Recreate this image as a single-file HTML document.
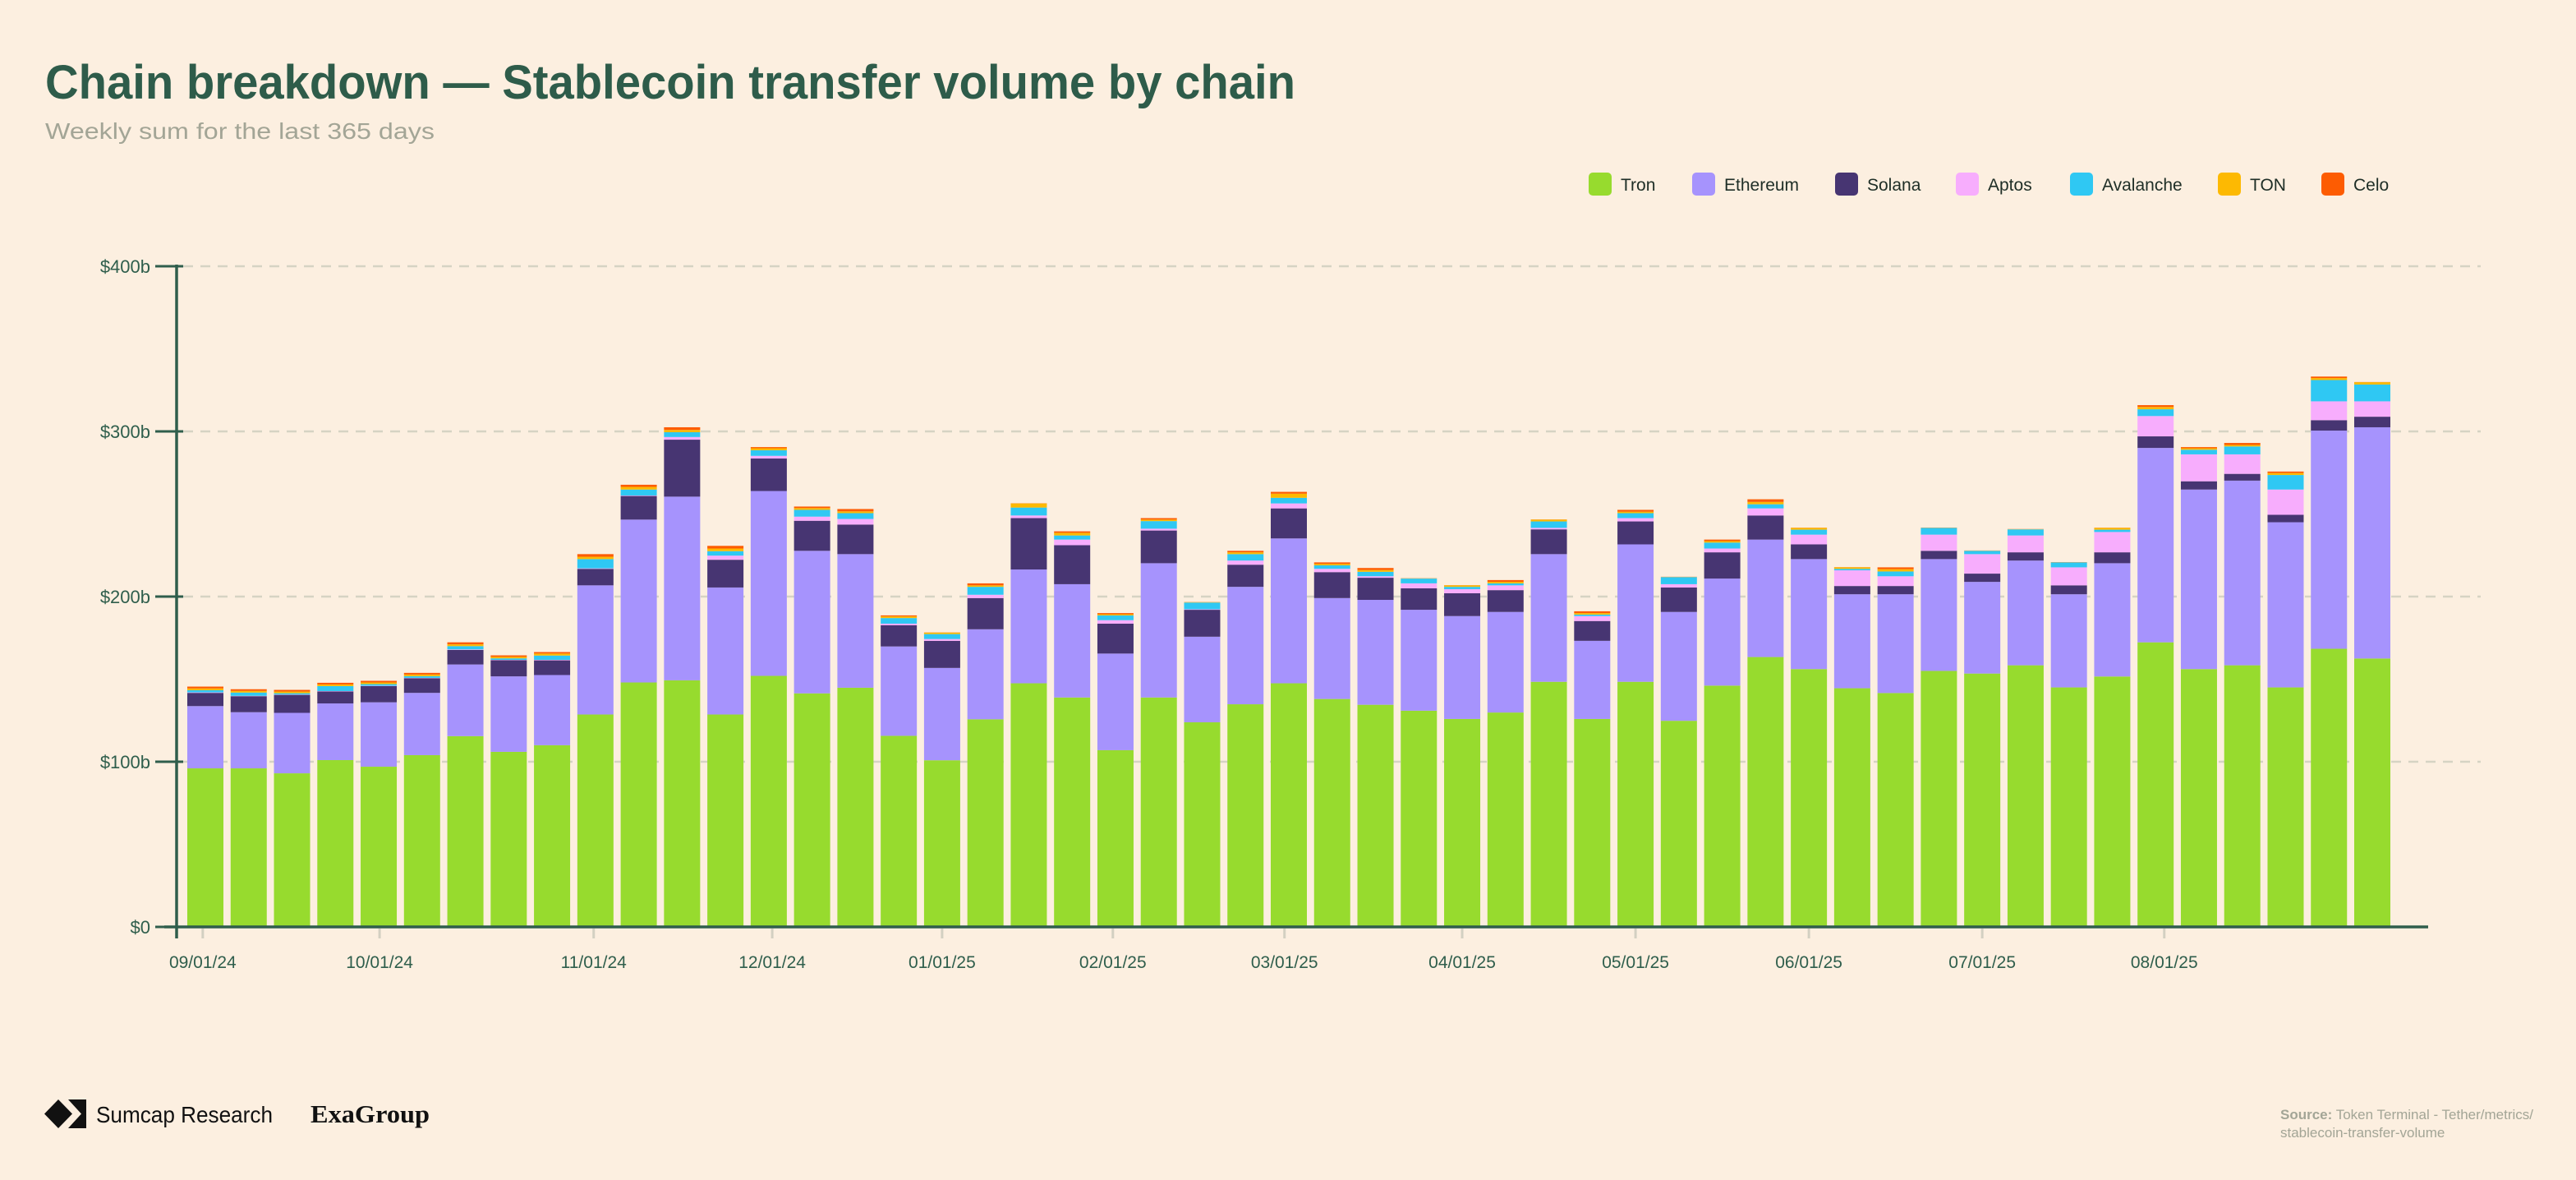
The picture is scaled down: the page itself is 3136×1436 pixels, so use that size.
<!DOCTYPE html>
<html><head><meta charset="utf-8"><style>
html,body{margin:0;padding:0;background:#fcefe0;}
svg{display:block;}
</style></head><body>
<svg id="chart" width="3136" height="1436" viewBox="0 0 3136 1436" xmlns="http://www.w3.org/2000/svg" font-family="'Liberation Sans', sans-serif">
<rect x="0" y="0" width="3136" height="1436" fill="#fcefe0"/>
<text x="55" y="120" font-size="58" font-weight="bold" fill="#2e5c4a" textLength="1522" lengthAdjust="spacingAndGlyphs">Chain breakdown — Stablecoin transfer volume by chain</text>
<text x="55" y="169" font-size="28" fill="#a3a596" textLength="474" lengthAdjust="spacingAndGlyphs">Weekly sum for the last 365 days</text>
<g id="legend"></g>
<g id="grid"></g>
<g id="bars"></g>
<g id="axes"></g>
<g>
<polygon points="71,1338 88,1355.5 71,1373 54,1355.5" fill="#111"/>
<polygon points="83,1338 105,1338 105,1373 83,1373 99,1355.5" fill="#111"/>
</g>
<text x="117" y="1366" font-size="28" fill="#111" textLength="215" lengthAdjust="spacingAndGlyphs">Sumcap Research</text>
<text x="378" y="1366" font-size="31" font-weight="bold" fill="#111" font-family="'Liberation Serif', serif" textLength="145" lengthAdjust="spacingAndGlyphs">ExaGroup</text>
<text x="2776" y="1362" font-size="17" fill="#a3a596"><tspan font-weight="bold">Source:</tspan> Token Terminal - Tether/metrics/</text>
<text x="2776" y="1384" font-size="17" fill="#a3a596">stablecoin-transfer-volume</text>
</svg>
<script>
const seriesNames = ["Tron","Ethereum","Solana","Aptos","Avalanche","TON","Celo"];
const seriesColors = ["#97db2e","#a693fd","#473572","#f7adfd","#2fc8f3","#fdb902","#fd5c02"];
const tron = [96,96,93,101,97,104,115.5,106,110,128.6,148,149.3,128.6,152,141.4,144.8,115.7,100.9,125.7,147.5,138.9,107,138.9,123.9,134.8,147.5,138,134.5,130.9,125.9,129.8,148.4,125.9,148.4,124.8,146.1,163.4,156.1,144.5,141.6,155,153.4,158.4,145,151.6,172.3,156.1,158.4,145,168.4,162.5];
const ethereum = [37.7,34,36.6,34.3,39,37.7,43.4,45.7,42.5,78.2,98.6,111.2,76.9,111.9,86.3,80.9,54.1,55.9,54.5,68.9,68.6,58.5,81.3,51.8,71.1,87.7,61.1,63.5,61.1,62.3,60.9,77.3,47.3,83.2,65.9,64.8,71.1,66.6,56.9,59.8,67.7,55.5,63.4,56.4,68.6,117.7,108.7,111.8,100,132.1,140];
const solana = [8,9.7,10.9,7.3,9.8,8.9,8.8,9.8,8.9,10,14.3,34.5,16.8,19.7,18.2,17.9,12.9,16.4,18.9,31.1,23.6,18.1,19.8,16.3,13.4,18.2,15.7,13.4,13,13.8,13.2,15,12,13.9,14.8,15.9,14.6,8.9,5,5,5,5,5,5.4,6.6,7,5,4.1,4.5,6.3,6.4];
const aptos = [0.3,0.2,0.2,0.2,0.2,0.2,0.3,0.2,0.3,0.3,0.3,1.6,2.5,1.6,2.5,3.4,0.9,1.1,2,1.6,3.4,2.1,1.1,0.3,2.5,3,2,0.9,3,2.5,2.9,0.9,3,2,2,2.3,4.3,5.9,9.5,5.9,9.8,11.8,10.2,10.9,12.3,12.3,16.3,11.8,15.3,11.4,9.3];
const avalanche = [1.3,2,0.8,3,1,1,2,0.9,2.6,5.6,3.6,2.9,2.7,3.4,4.1,3.5,3.4,3,4.8,4.8,2.5,2.9,4.6,4.1,3.9,3.4,2.1,2.7,2.9,1.4,1.2,3.9,0.9,3,4.3,3.6,2.5,3,0.9,2.9,4.1,2,3.7,3,1.4,4.1,2.8,4.8,8.8,12.9,10.2];
const ton = [1.1,1,1,1,1,1,1.1,0.9,1.2,1.4,1.6,1.4,1.6,1.2,1.1,1.1,1,0.9,0.9,2.5,1.6,0.7,0.9,0.2,1.1,2.5,0.9,1.1,0.1,0.9,0.9,1.1,0.9,0.9,0.1,0.9,1.4,1.1,0.9,1.4,0.1,0.1,0.1,0.1,1.1,1.4,0.9,0.9,1.2,1.2,1.4];
const celo = [1.1,1,1,1,1,1,1.2,0.9,0.9,1.6,1.3,1.6,1.6,0.7,0.9,1.4,0.6,0.1,1.2,0.1,0.9,0.7,0.9,0.1,0.9,1.1,0.9,1.2,0.1,0.1,1.1,0.1,1.1,1.1,0.1,0.9,1.6,0.1,0.1,1.1,0.1,0.1,0.1,0.1,0.1,1.1,0.7,1.2,0.9,0.9,0.1];
const yTicks = [0,100,200,300,400];
const yTickLabels = ["$0","$100b","$200b","$300b","$400b"];
const xTickIndex = [-0.06,4.02,8.96,13.08,17,20.94,24.9,29,33,37,41,45.2];
const xTickLabels = ["09/01/24","10/01/24","11/01/24","12/01/24","01/01/25","02/01/25","03/01/25","04/01/25","05/01/25","06/01/25","07/01/25","08/01/25"];

const NS = "http://www.w3.org/2000/svg";
const allSeries = [tron, ethereum, solana, aptos, avalanche, ton, celo];
const y0 = 1128, pxPer = 201.0/100;
function yScale(v){ return y0 - v*pxPer; }
const firstCenter = 250, step = 52.76, barW = 44;
function xScale(i){ return firstCenter + step*i; }
function mk(tag, attrs, parent){ const e=document.createElementNS(NS,tag); for(const k in attrs) e.setAttribute(k,attrs[k]); parent.appendChild(e); return e; }

const grid = document.getElementById('grid');
const axes = document.getElementById('axes');
yTicks.forEach((t,i)=>{
  const y = yScale(t);
  if (t>0){
    const gl = mk('line',{x1:223,x2:3020,y1:y,y2:y,stroke:'#d6d3c3','stroke-width':2.5,'stroke-dasharray':'12 9'},grid);
    
    
  }
  const tk = mk('line',{x1:189,x2:223,y1:y,y2:y,stroke:'#2f5e4c','stroke-width':3},axes);
  
  
  const lb = mk('text',{x:183,y:y+8,'text-anchor':'end','font-size':22,fill:'#2f5e4c'},axes);
  lb.textContent = yTickLabels[i];
  
  
});
const ya = mk('line',{x1:215,x2:215,y1:322,y2:1142,stroke:'#2f5e4c','stroke-width':3.5},axes);


const xa = mk('line',{x1:200,x2:2956,y1:y0,y2:y0,stroke:'#2f5e4c','stroke-width':3.5},axes);


xTickIndex.forEach((ti,i)=>{
  const x = xScale(ti);
  const tk = mk('line',{x1:x,x2:x,y1:y0+2,y2:y0+14,stroke:'#d3d0c2','stroke-width':3},axes);
  
  
  const lb = mk('text',{x:x,y:1178,'text-anchor':'middle','font-size':21,fill:'#2f5e4c'},axes);
  lb.textContent = xTickLabels[i];
  
  
});

const bars = document.getElementById('bars');
tron.forEach((_,i)=>{
  let cum = 0;
  const g = mk('g',{},bars);
  
  
  allSeries.forEach((s,k)=>{
    const v = s[i];
    const yt = yScale(cum+v), yb = yScale(cum);
    cum += v;
    const r = mk('rect',{x:xScale(i)-barW/2,y:yt,width:barW,height:Math.max(0,yb-yt),fill:seriesColors[k]},g);
    
    
  });
});

const legend = document.getElementById('legend');
const legendX = [1934,2060,2234,2381,2520,2700,2826];
seriesNames.forEach((n,k)=>{
  const g = mk('g',{},legend);
  
  
  mk('rect',{x:legendX[k],y:210,width:28,height:28,rx:5,fill:seriesColors[k]},g);
  const t = mk('text',{x:legendX[k]+39,y:232,'font-size':21,fill:'#1e2e26'},g);
  t.textContent = n;
});
</script>
</body></html>
